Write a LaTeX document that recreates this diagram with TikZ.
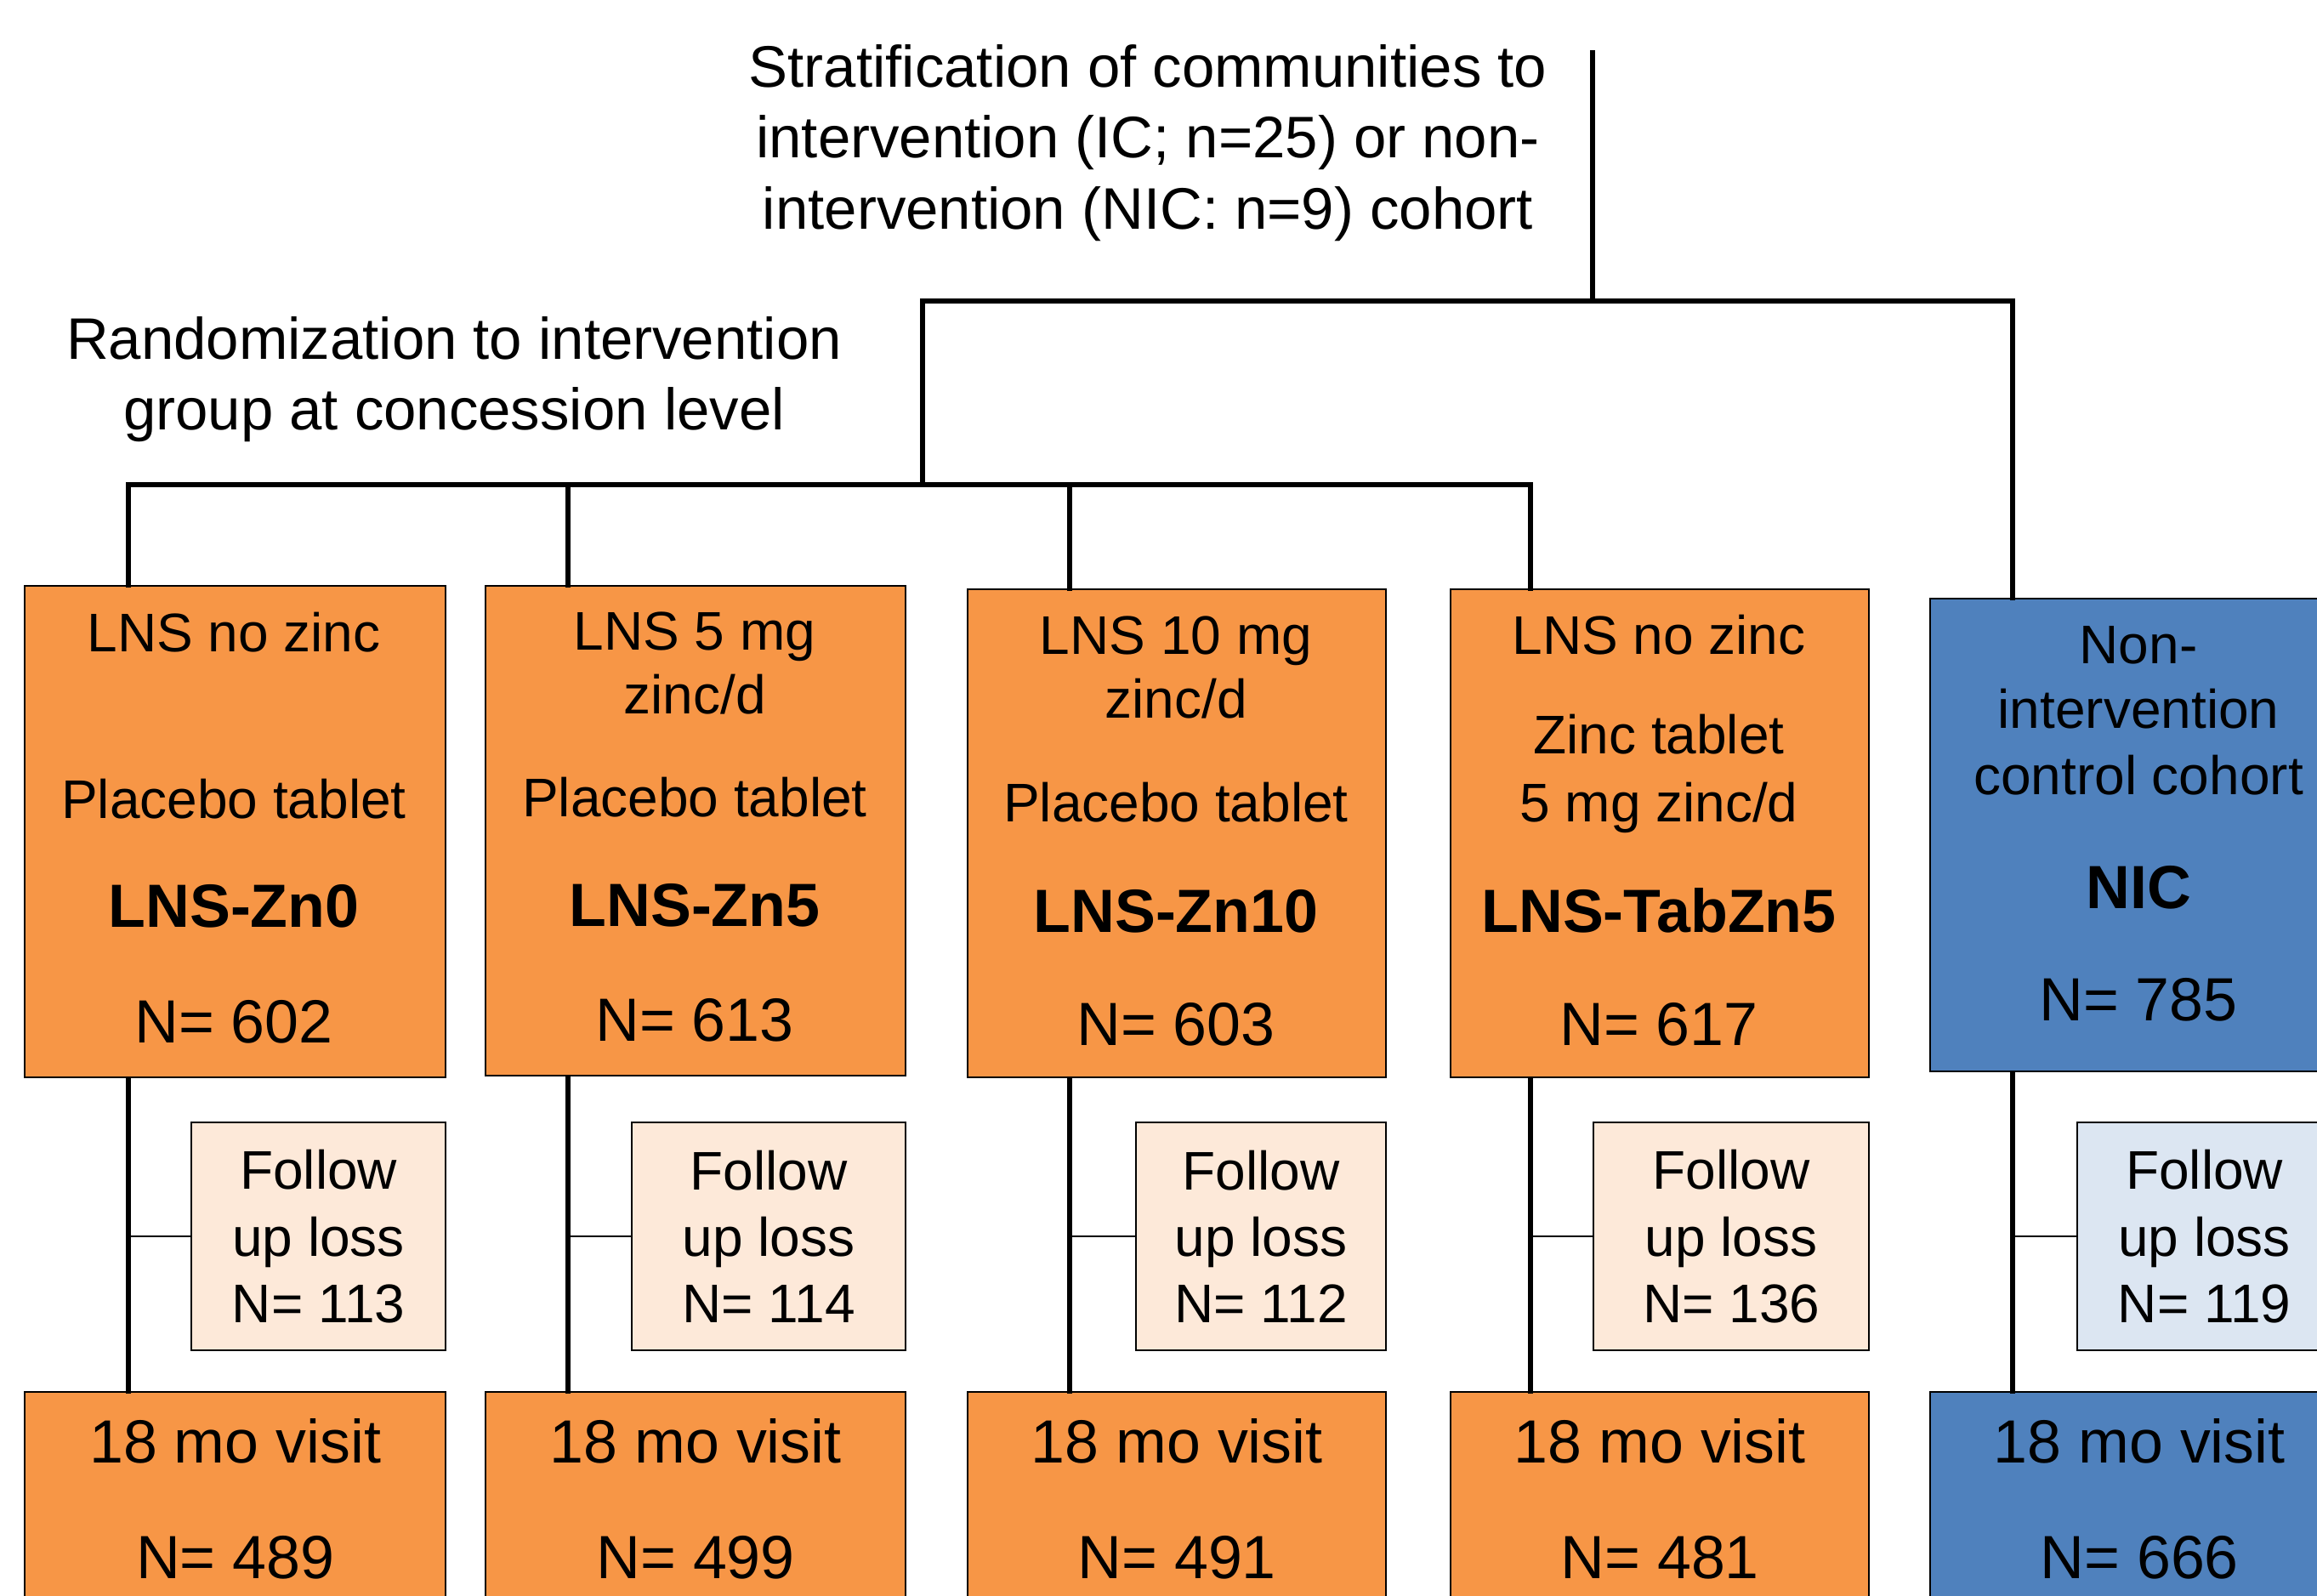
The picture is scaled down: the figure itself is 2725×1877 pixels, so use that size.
\documentclass[tikz,border=0pt]{standalone}
\usepackage{fontspec}
\setmainfont{Liberation Sans}
\usetikzlibrary{positioning}
\definecolor{zincorange}{HTML}{F79646}
\definecolor{losspeach}{HTML}{FDE9D9}
\definecolor{nicblue}{HTML}{4F81BD}
\definecolor{lossblue}{HTML}{DCE6F2}

\begin{document}
\begin{tikzpicture}[x=0.01cm, y=-0.01cm,
    every node/.style={inner sep=0pt},
    armbox/.style={draw, line width=0.6pt, anchor=north west},
    icbox/.style={armbox, fill=zincorange},
    nicbox/.style={armbox, fill=nicblue},
    visitbox/.style={align=center, font=\fontsize{20.4}{38.7}\selectfont},
    lossbox/.style={draw, line width=0.6pt, anchor=north west, align=center,
        minimum height=2.68cm, font=\fontsize{18.2}{22.2}\selectfont},
    toptxt/.style={align=center, anchor=north, font=\fontsize{19.6}{23.7}\selectfont},
    smalltxt/.style={font=\fontsize{18.2}{22}\selectfont, text height=13pt, text depth=0pt},
    bigtxt/.style={font=\fontsize{20.4}{24}\selectfont, text height=14.6pt, text depth=0pt},
    boldtxt/.style={bigtxt, font=\fontsize{20.4}{24}\selectfont\bfseries},
    trunk/.style={line width=1.5pt, line cap=rect},
    twig/.style={line width=0.7pt}]

    \useasboundingbox (0,0) rectangle (2725,1877);
    \clip (0,0) rectangle (2725,1877);

    % headings
    \node[toptxt] (stratlbl) at (1350,52) {Stratification of communities to\\intervention (IC; n=25) or non-\\intervention (NIC: n=9) cohort};
    \node[toptxt] (randlbl) at (534,372) {Randomization to intervention\\group at concession level};

    % arms
    \node[icbox, minimum width=4.95cm, minimum height=5.78cm] (b1) at (28,688) {};
    \node[icbox, minimum width=4.94cm, minimum height=5.76cm] (b2) at (570,688) {};
    \node[icbox, minimum width=4.92cm, minimum height=5.74cm] (b3) at (1137,692) {};
    \node[icbox, minimum width=4.92cm, minimum height=5.74cm] (b4) at (1705,692) {};
    \node[nicbox, minimum width=4.92cm, minimum height=5.56cm] (b5) at (2269,703) {};

    % LNS-Zn0
    \node[smalltxt] (b1a) at (275,744) {LNS no zinc};
    \node[smalltxt] (b1b) at (275,940) {Placebo tablet};
    \node[boldtxt] (b1c) at (275,1065) {LNS-Zn0};
    \node[bigtxt] (b1d) at (275,1201) {N= 602};
    % LNS-Zn5
    \node[smalltxt] (b2a) at (817,742) {LNS 5 mg};
    \node[smalltxt] (b2b) at (817,817) {zinc/d};
    \node[smalltxt] (b2c) at (817,938) {Placebo tablet};
    \node[boldtxt] (b2d) at (817,1064) {LNS-Zn5};
    \node[bigtxt] (b2e) at (817,1199) {N= 613};
    % LNS-Zn10
    \node[smalltxt] (b3a) at (1383,747) {LNS 10 mg};
    \node[smalltxt] (b3b) at (1383,822) {zinc/d};
    \node[smalltxt] (b3c) at (1383,944) {Placebo tablet};
    \node[boldtxt] (b3d) at (1383,1071) {LNS-Zn10};
    \node[bigtxt] (b3e) at (1383,1204) {N= 603};
    % LNS-TabZn5
    \node[smalltxt] (b4a) at (1951,747) {LNS no zinc};
    \node[smalltxt] (b4b) at (1951,864) {Zinc tablet};
    \node[smalltxt] (b4c) at (1951,944) {5 mg zinc/d};
    \node[boldtxt] (b4d) at (1951,1071) {LNS-TabZn5};
    \node[bigtxt] (b4e) at (1951,1204) {N= 617};
    % NIC
    \node[smalltxt] (b5a) at (2515,758) {Non-};
    \node[smalltxt] (b5b) at (2515,834) {intervention};
    \node[smalltxt] (b5c) at (2515,912) {control cohort};
    \node[boldtxt] (b5d) at (2515,1043) {NIC};
    \node[bigtxt] (b5e) at (2515,1175) {N= 785};

    % follow up loss
    \node[lossbox, fill=losspeach, minimum width=2.99cm] (f1) at (224,1319) {Follow\\up loss\\N= 113};
    \node[lossbox, fill=losspeach, minimum width=3.22cm] (f2) at (742,1319) {Follow\\up loss\\N= 114};
    \node[lossbox, fill=losspeach, minimum width=2.94cm] (f3) at (1335,1319) {Follow\\up loss\\N= 112};
    \node[lossbox, fill=losspeach, minimum width=3.24cm] (f4) at (1873,1319) {Follow\\up loss\\N= 136};
    \node[lossbox, fill=lossblue, minimum width=2.99cm] (f5) at (2442,1319) {Follow\\up loss\\N= 119};

    % 18 mo visit
    \node[icbox, visitbox, minimum width=4.95cm, minimum height=2.52cm] (v1) at (28,1636) {18 mo visit\\N= 489};
    \node[icbox, visitbox, minimum width=4.94cm, minimum height=2.52cm] (v2) at (570,1636) {18 mo visit\\N= 499};
    \node[icbox, visitbox, minimum width=4.92cm, minimum height=2.52cm] (v3) at (1137,1636) {18 mo visit\\N= 491};
    \node[icbox, visitbox, minimum width=4.92cm, minimum height=2.52cm] (v4) at (1705,1636) {18 mo visit\\N= 481};
    \node[nicbox, visitbox, minimum width=4.92cm, minimum height=2.52cm] (v5) at (2269,1636) {18 mo visit\\N= 666};

    % tree
    \coordinate (stratln) at (1873,62);
    \coordinate (ictop) at (1085,354);
    \coordinate (arm1) at (151,570);
    \coordinate (arm2) at (668,570);
    \coordinate (arm3) at (1258,570);
    \coordinate (arm4) at (1800,570);
    \coordinate (arm5) at (2367,354);

    \draw[trunk] (stratln) -- (stratln |- ictop);
    \draw[trunk] (ictop |- arm1) -- (ictop) -- (arm5);
    \draw[trunk] (arm1) -- (arm4);
    \foreach \i in {1,...,5} {
        \draw[trunk] (arm\i) -- (arm\i |- b\i.north);
        \draw[trunk] (arm\i |- b\i.south) -- (arm\i |- v\i.north);
        \draw[twig] (arm\i |- f\i.west) -- (f\i.west);
    }
\end{tikzpicture}
\end{document}
